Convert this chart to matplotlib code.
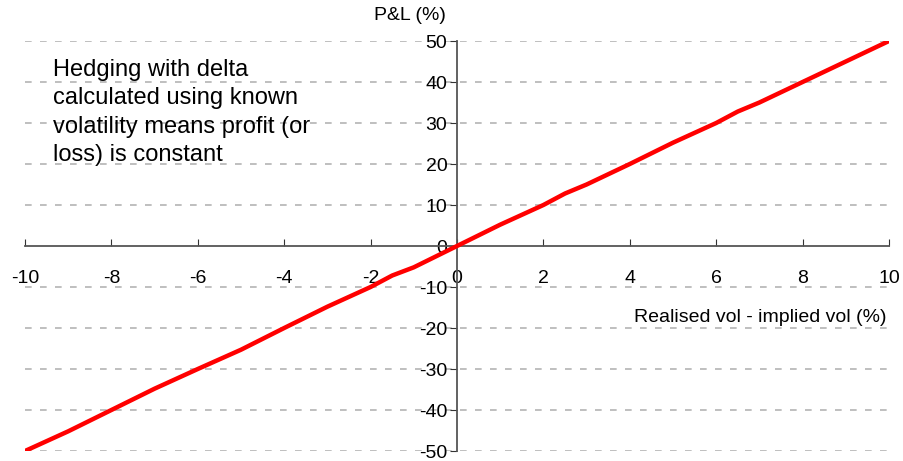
#!/usr/bin/env python3
import matplotlib
matplotlib.use("Agg")
import matplotlib.pyplot as plt

plt.rcParams['font.family'] = ['Liberation Sans', 'DejaVu Sans']
plt.rcParams['axes.unicode_minus'] = False

# realised vol - implied vol (%) and resulting P&L (%)
vol_diff = [-10, -9, -8, -7, -6, -5, -4, -3, -2, -1.5, -1, 0, 0.5, 1, 2, 2.5, 3, 4, 5, 6, 6.5, 7, 8, 9, 10]
pnl = [-50, -45.2, -40, -34.8, -30, -25.3, -20, -14.8, -10, -7.2, -5.2, 0, 2.6, 5.2, 10, 12.8, 15, 20, 25.2, 30, 32.8, 35, 40, 45, 50]

x_ticks = [-10, -8, -6, -4, -2, 0, 2, 4, 6, 8, 10]
y_ticks = [-50, -40, -30, -20, -10, 0, 10, 20, 30, 40, 50]

note = "Hedging with delta\ncalculated using known\nvolatility means profit (or\nloss) is constant"

fig = plt.figure(figsize=(9.04, 4.61), dpi=100)
ax = fig.add_axes([25/904, 1-451/461, (889-25)/904, (451-41)/461])

for yv in y_ticks:
    if yv == 0:
        continue
    ax.axhline(yv, color='#b4b4b4', lw=1.2, dashes=(4, 5), zorder=0)

ax.plot(vol_diff, pnl, color='#ff0000', lw=3.2, solid_capstyle='butt', zorder=3)

ax.set_xlim(-10, 10)
ax.set_ylim(-50, 50)

ax.spines['left'].set_position(('data', 0))
ax.spines['bottom'].set_position(('data', 0))
ax.spines['right'].set_visible(False)
ax.spines['top'].set_visible(False)
for s in ('left', 'bottom'):
    ax.spines[s].set_color('#555555')
    ax.spines[s].set_linewidth(1.3)

ax.set_xticks(x_ticks)
ax.set_yticks(y_ticks)
ax.tick_params(axis='x', direction='in', length=5, color='#333333', labelsize=14, pad=17)
ax.tick_params(axis='y', direction='out', length=5, color='#333333', labelsize=14, pad=2)
ax.patch.set_visible(False)

fig.text(410/904, 1-16/461, "P&L (%)", ha='center', va='center', fontsize=14)
fig.text(887/904, 1-318/461, "Realised vol - implied vol (%)", ha='right', va='center', fontsize=14)
fig.text(53/904, 1-59/461, note, ha='left', va='top', fontsize=17, linespacing=1.38)

fig.savefig("out.png", dpi=100)
